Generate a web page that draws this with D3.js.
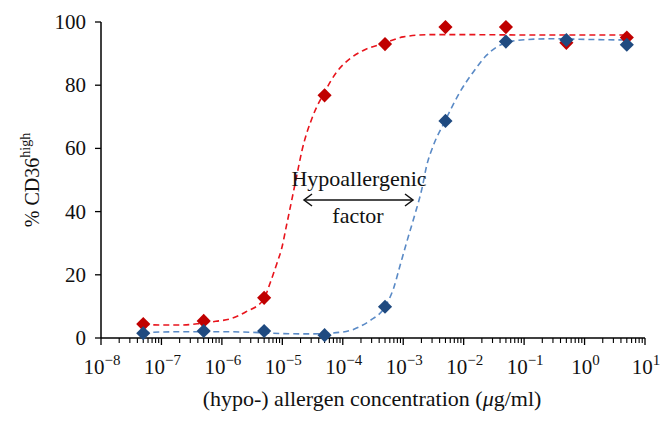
<!DOCTYPE html>
<html>
<head>
<meta charset="utf-8">
<script src="https://cdn.jsdelivr.net/npm/d3@7"></script>
<style>
  body { margin: 0; background: #fff; }
  svg { font-family: "Liberation Serif", "DejaVu Serif", serif; }
</style>
</head>
<body>
<div id="viz"></div>
<script>
// measured concentrations (ug/ml)
const concentrations = [5e-8, 5e-7, 5e-6, 5e-5, 5e-4, 5e-3, 5e-2, 5e-1, 5];
const allergenValues = [4.4, 5.4, 12.7, 76.8, 93.0, 98.4, 98.4, 93.4, 95.1];
const hypoValues = [1.5, 2.2, 2.2, 0.9, 9.9, 68.7, 93.8, 94.3, 92.8];

// fitted curves: [log10 conc, %]
const allergenFit = [
  [-7.30, 4.3], [-7.0, 4.1], [-6.7, 4.1], [-6.4, 4.5], [-6.1, 5.3], [-5.87, 6.0],
  [-5.6, 8.3], [-5.31, 12.2], [-5.2, 17.5], [-5.09, 23.6], [-5.01, 28.4],
  [-4.93, 35.7], [-4.85, 43.1], [-4.76, 51.5], [-4.68, 58.9], [-4.49, 70.5],
  [-4.31, 77.5], [-4.10, 84.2], [-3.88, 88.4], [-3.66, 91.0], [-3.31, 93.3],
  [-3.0, 95.3], [-2.56, 96.0], [-2.0, 96.0], [-1.0, 95.9], [0.0, 95.9], [0.72, 95.9]
];
const hypoFit = [
  [-7.30, 1.6], [-7.0, 1.9], [-6.5, 2.0], [-6.0, 2.0], [-5.5, 1.8], [-5.0, 1.4],
  [-4.5, 1.3], [-4.0, 1.9], [-3.84, 2.6], [-3.72, 3.6], [-3.55, 5.5], [-3.30, 9.9],
  [-3.16, 15.7], [-3.05, 23.1], [-2.94, 30.5], [-2.81, 38.9], [-2.69, 47.3],
  [-2.61, 54.7], [-2.50, 61.0], [-2.31, 68.6], [-2.06, 77.9], [-1.84, 84.2],
  [-1.62, 89.5], [-1.32, 93.3], [-1.0, 94.4], [-0.5, 94.7], [0.0, 94.5], [0.72, 94.3]
];

const yTicks = [0, 20, 40, 60, 80, 100];
const xDecades = [-8, -7, -6, -5, -4, -3, -2, -1, 0, 1];

const width = 671, height = 425;
const svg = d3.select("#viz").append("svg")
  .attr("width", width).attr("height", height);

const x = d3.scaleLog().domain([1e-8, 10]).range([101, 645]);
const y = d3.scaleLinear().domain([0, 100]).range([338, 22]);

// fitted dashed lines
const line = d3.line()
  .x(d => x(Math.pow(10, d[0])))
  .y(d => y(d[1]))
  .curve(d3.curveMonotoneX);

svg.append("path").datum(allergenFit)
  .attr("d", line).attr("fill", "none")
  .attr("stroke", "#e8141c").attr("stroke-width", 1.6)
  .attr("stroke-dasharray", "6,4");

svg.append("path").datum(hypoFit)
  .attr("d", line).attr("fill", "none")
  .attr("stroke", "#5a8ac6").attr("stroke-width", 1.6)
  .attr("stroke-dasharray", "6,4");

// axes
svg.append("line").attr("x1", x(1e-8)).attr("x2", x(10))
  .attr("y1", y(0)).attr("y2", y(0))
  .attr("stroke", "#000").attr("stroke-width", 1.5);
svg.append("line").attr("x1", x(1e-8)).attr("x2", x(1e-8))
  .attr("y1", y(0)).attr("y2", y(100))
  .attr("stroke", "#000").attr("stroke-width", 1.5);

// y ticks
yTicks.forEach(t => {
  svg.append("line").attr("x1", 95).attr("x2", 101)
    .attr("y1", y(t)).attr("y2", y(t))
    .attr("stroke", "#000").attr("stroke-width", 1.3);
  svg.append("text").attr("x", 86).attr("y", y(t) + 7)
    .attr("text-anchor", "end").attr("font-size", 21).attr("fill", "#111")
    .text(t);
});

// x ticks: major decades + minor 2..9
xDecades.forEach(e => {
  const v = Math.pow(10, e);
  svg.append("line").attr("x1", x(v)).attr("x2", x(v))
    .attr("y1", y(0)).attr("y2", y(0) + 7)
    .attr("stroke", "#000").attr("stroke-width", 1.3);
  if (e < 1) {
    for (let m = 2; m <= 9; m++) {
      svg.append("line").attr("x1", x(m * v)).attr("x2", x(m * v))
        .attr("y1", y(0)).attr("y2", y(0) + 5)
        .attr("stroke", "#000").attr("stroke-width", 1.1);
    }
  }
  const lab = svg.append("text").attr("x", x(v) + 1).attr("y", 374)
    .attr("text-anchor", "middle").attr("font-size", 21).attr("fill", "#111");
  lab.append("tspan").text("10");
  lab.append("tspan").attr("dy", -9).attr("font-size", 15)
    .text(e < 0 ? "\u2212" + Math.abs(e) : String(e));
});

// markers: diamonds
const diamond = d3.symbol().type(d3.symbolSquare).size(100);
svg.append("g").selectAll("path").data(concentrations)
  .join("path")
  .attr("d", diamond)
  .attr("transform", (c, i) => `translate(${x(c)},${y(allergenValues[i])}) rotate(45)`)
  .attr("fill", "#c00000");
svg.append("g").selectAll("path").data(concentrations)
  .join("path")
  .attr("d", diamond)
  .attr("transform", (c, i) => `translate(${x(c)},${y(hypoValues[i])}) rotate(45)`)
  .attr("fill", "#1f4a80");

// annotation
svg.append("text").attr("x", 359).attr("y", 186)
  .attr("text-anchor", "middle").attr("font-size", 22).attr("fill", "#111")
  .text("Hypoallergenic");
svg.append("text").attr("x", 358).attr("y", 223)
  .attr("text-anchor", "middle").attr("font-size", 22).attr("fill", "#111")
  .text("factor");
const ay = 200, ax1 = 304, ax2 = 413;
svg.append("line").attr("x1", ax1).attr("x2", ax2).attr("y1", ay).attr("y2", ay)
  .attr("stroke", "#111").attr("stroke-width", 1.5);
svg.append("path").attr("d", `M${ax1 + 8},${ay - 6}L${ax1},${ay}L${ax1 + 8},${ay + 6}`)
  .attr("fill", "none").attr("stroke", "#111").attr("stroke-width", 1.5);
svg.append("path").attr("d", `M${ax2 - 8},${ay - 6}L${ax2},${ay}L${ax2 - 8},${ay + 6}`)
  .attr("fill", "none").attr("stroke", "#111").attr("stroke-width", 1.5);

// axis titles
const xt = svg.append("text").attr("x", 372).attr("y", 406)
  .attr("text-anchor", "middle").attr("font-size", 22).attr("fill", "#111");
xt.append("tspan").text("(hypo-) allergen concentration (");
xt.append("tspan").attr("font-style", "italic").text("\u03bc");
xt.append("tspan").text("g/ml)");

const yt = svg.append("text")
  .attr("transform", "translate(39,180) rotate(-90)")
  .attr("text-anchor", "middle").attr("font-size", 20).attr("fill", "#111");
yt.append("tspan").text("% CD36");
yt.append("tspan").attr("dy", -9).attr("font-size", 14).text("high");
</script>
</body>
</html>
